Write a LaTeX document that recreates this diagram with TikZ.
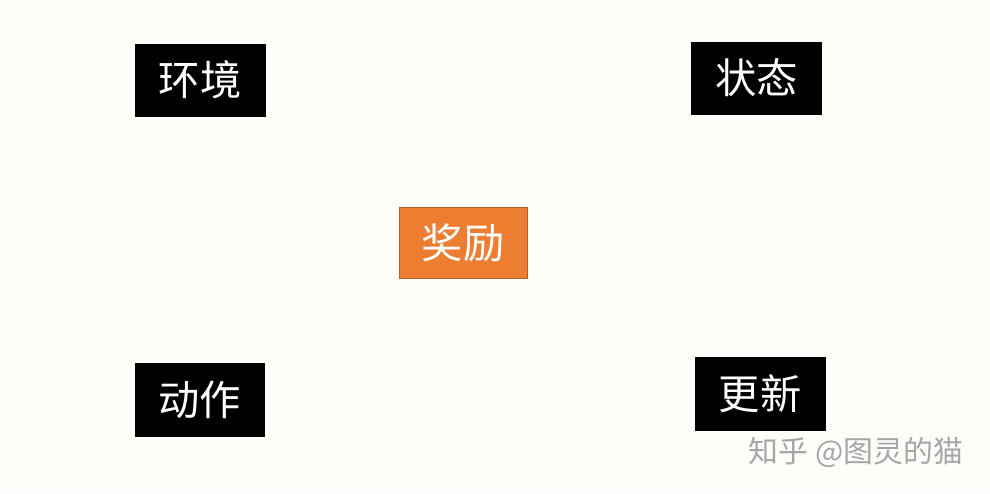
\documentclass[tikz,border=0pt]{standalone}
\usepackage{fontspec}
\newfontfamily\cjk{Noto Sans CJK SC}
\usetikzlibrary{positioning}
\definecolor{paper}{HTML}{FDFDFA}
\definecolor{rewardorange}{HTML}{ED7D31}
\definecolor{rewardedge}{HTML}{B0602A}

\begin{document}
\begin{tikzpicture}
[font=\cjk\fontsize{23.5}{28}\selectfont,
    box/.style={rectangle, fill=black, draw=black, text=white,
        minimum width=2.6cm, minimum height=1.44cm, inner sep=0pt},
    rewardbox/.style={box, fill=rewardorange, draw=rewardedge, thin},
    ]
    % page
    \fill[paper] (0,0) rectangle (19.8,9.86);
    \useasboundingbox (0,0) rectangle (19.8,9.86);

    \node[box] (env) at (4.0,8.26) {环境};
    \node[box] (state) at (15.13,8.30) {状态};
    \node[rewardbox, minimum width=2.56cm, minimum height=1.42cm] (reward) at (9.26,5.01) {奖励};
    \node[box, minimum width=2.58cm, minimum height=1.46cm] (action) at (3.99,1.87) {动作};
    \node[box, minimum height=1.46cm] (update) at (15.2,1.99) {更新};

    % watermark
    \node[text=black!35, font=\cjk\fontsize{17}{20}\selectfont] (mark) at (17.12,0.82) {知乎 @图灵的猫};
\end{tikzpicture}
\end{document}
